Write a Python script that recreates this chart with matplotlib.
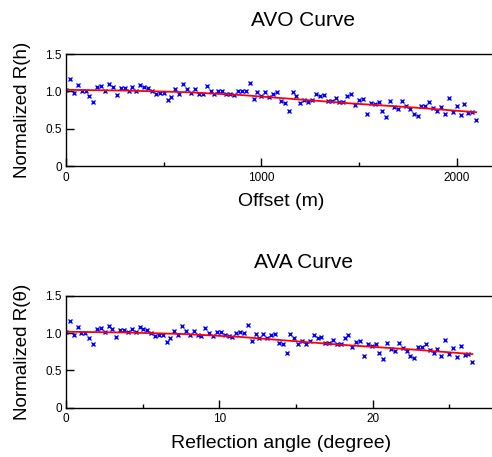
import numpy as np
import matplotlib
matplotlib.use("Agg")
import matplotlib.pyplot as plt
from matplotlib.ticker import FixedLocator

plt.rcParams['font.family'] = ['Liberation Sans', 'DejaVu Sans']

## receiver positions (every 20 m) and matching incidence angles
offset = np.arange(0, 2101, 20)
angle = np.linspace(0, 26.5, 106)

## normalized amplitudes
amp = [1.02, 1.16, 0.98, 1.08, 1.00, 1.00, 0.94, 0.86, 1.06, 1.07,
       1.01, 1.10, 1.06, 0.95, 1.05, 1.04, 1.01, 1.06, 1.01, 1.08,
       1.06, 1.04, 1.00, 0.96, 0.98, 0.98, 0.88, 0.93, 1.03, 0.97,
       1.10, 1.03, 0.98, 1.03, 0.97, 0.96, 1.07, 1.00, 0.96, 1.01,
       1.01, 0.97, 0.96, 0.95, 1.00, 1.01, 1.00, 1.11, 0.90, 0.99,
       0.94, 0.99, 0.93, 0.97, 0.99, 0.87, 0.85, 0.73, 0.995, 0.94,
       0.85, 0.89, 0.86, 0.89, 0.97, 0.94, 0.95, 0.87, 0.87, 0.91,
       0.86, 0.86, 0.94, 0.97, 0.82, 0.88, 0.90, 0.70, 0.85, 0.83,
       0.86, 0.73, 0.66, 0.87, 0.79, 0.76, 0.87, 0.80, 0.76, 0.69,
       0.67, 0.81, 0.81, 0.86, 0.78, 0.74, 0.79, 0.70, 0.91, 0.72,
       0.80, 0.68, 0.83, 0.71, 0.72, 0.62]

## fitted trend (red line)
fit_offset = [0, 300, 600, 900, 1150, 1450, 1800, 2100]
fit_angle = [0, 3.8, 7.6, 11.4, 14.5, 18.3, 22.7, 26.5]
fit_amp = [1.02, 1.01, 0.99, 0.95, 0.90, 0.84, 0.78, 0.72]

W, H = 492, 457
fig = plt.figure(figsize=(W/100, H/100), dpi=100)

def style(ax, xmax, major, minor):
    ax.set_xlim(0, xmax)
    ax.set_ylim(0, 1.5)
    ax.spines['right'].set_visible(False)
    for s in ['left', 'bottom', 'top']:
        ax.spines[s].set_linewidth(1.0)
    ax.set_yticks([0, 0.5, 1.0, 1.5])
    ax.set_yticklabels(["0", "0.5", "1.0", "1.5"])
    ax.xaxis.set_major_locator(FixedLocator(major))
    ax.xaxis.set_minor_locator(FixedLocator(minor))
    ax.tick_params(which='major', direction='in', length=5.8, width=1, labelsize=8.5, pad=3)
    ax.tick_params(which='minor', direction='in', length=3, width=1)
    ax.tick_params(axis='x', which='major', pad=4)

# top: AVO
ax1 = fig.add_axes([66/W, 1-166/H, 429.7/W, 112/H])
ax1.plot(offset, amp, 'x', color='blue', ms=3, mew=1)
ax1.plot(fit_offset, fit_amp, '-', color='red', lw=1.3)
style(ax1, 2200, [0, 1000, 2000], [500, 1500])
ax1.set_xlabel('Offset (m)', fontsize=14, labelpad=7)
ax1.set_ylabel('Normalized R(h)', fontsize=13.5, labelpad=10)
fig.text(303/W, 1-20/H, 'AVO Curve', fontsize=15, ha='center', va='center')

# bottom: AVA
ax2 = fig.add_axes([66/W, 1-407.7/H, 429.3/W, 111.7/H])
ax2.plot(angle, amp, 'x', color='blue', ms=3, mew=1)
ax2.plot(fit_angle, fit_amp, '-', color='red', lw=1.3)
style(ax2, 28, [0, 10, 20], [5, 15, 25])
ax2.set_xlabel('Reflection angle (degree)', fontsize=14, labelpad=7)
ax2.set_ylabel('Normalized R(\u03b8)', fontsize=13.5, labelpad=10)
fig.text(303/W, 1-262/H, 'AVA Curve', fontsize=15, ha='center', va='center')

fig.savefig('out.png', dpi=100)
